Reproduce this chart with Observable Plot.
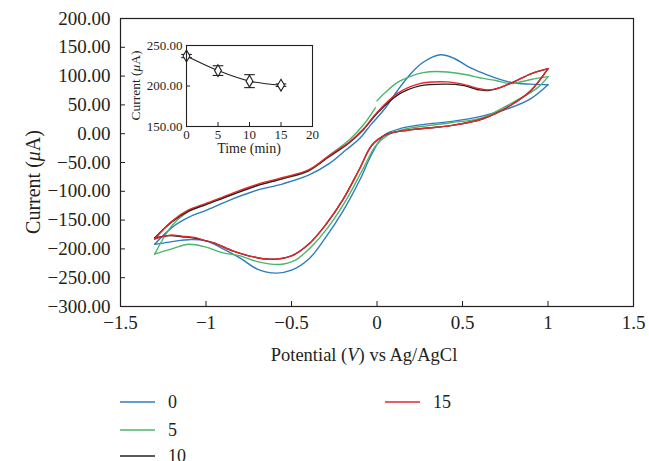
<!DOCTYPE html>
<html>
<head>
<meta charset="utf-8">
<script src="https://cdn.jsdelivr.net/npm/d3@7"></script>
<script src="https://cdn.jsdelivr.net/npm/@observablehq/plot@0.6"></script>
<style>
  body { margin: 0; background: #fff; }
  #wrap { position: relative; width: 649px; height: 461px; overflow: hidden; font-family: "Liberation Serif", "DejaVu Serif", serif; color: #231f20; }
  #inset { position: absolute; left: 90px; top: 30px; }
  .leg { position: absolute; display: flex; align-items: center; font-size: 18px; height: 22px; }
  .leg svg { margin-right: 13px; }
</style>
</head>
<body>
<div id="wrap">
  <div id="main"></div>
  <div id="inset"></div>
  <div id="legend"></div>
</div>
<script>
// ---- data (potential V, current µA) ----
const seriesNames = ["0", "5", "10", "15"];
const seriesColors = ["#2f7bbd", "#4cb46c", "#231f20", "#e2292d"];

const s0Forward = [[-1.3,-192],[-1.2,-163],[-1.1,-145],[-1.0,-133],[-0.85,-114],[-0.7,-98],[-0.55,-87],[-0.4,-72],[-0.28,-52],[-0.18,-28],[-0.1,-8],[-0.04,14],[0.05,45],[0.12,75],[0.2,105],[0.27,124],[0.37,137],[0.45,131],[0.53,117],[0.62,105],[0.7,96],[0.8,88],[0.9,86],[1.0,85]];
const s0Reverse = [[1.0,85],[0.9,61],[0.78,45],[0.62,31],[0.43,21],[0.3,17],[0.15,10],[0.04,-3],[-0.03,-35],[-0.1,-80],[-0.2,-135],[-0.3,-180],[-0.4,-218],[-0.5,-237],[-0.59,-242],[-0.7,-235],[-0.8,-216],[-0.9,-200],[-1.0,-186],[-1.1,-184],[-1.17,-186],[-1.25,-190],[-1.3,-192]];

const s5Forward = [[0.0,57],[0.05,72],[0.12,89],[0.2,100],[0.27,106],[0.35,108],[0.49,104],[0.62,96],[0.7,92],[0.78,87],[0.9,94],[1.0,99]];
const s5Reverse = [[1.0,99],[0.94,80],[0.78,52],[0.62,28],[0.43,19],[0.3,14],[0.15,7],[0.06,-3],[-0.01,-22],[-0.08,-60],[-0.18,-115],[-0.28,-160],[-0.38,-195],[-0.48,-220],[-0.57,-227],[-0.7,-222],[-0.8,-212],[-0.9,-207],[-1.0,-197],[-1.1,-192],[-1.2,-200],[-1.3,-209]];
const s5Return = [[-1.3,-209],[-1.2,-160],[-1.1,-135],[-1.0,-123],[-0.85,-106],[-0.7,-90],[-0.55,-78],[-0.4,-65],[-0.28,-38],[-0.16,-10],[-0.08,15],[-0.01,45]];

const s10Forward = [[-1.3,-181],[-1.2,-153],[-1.1,-134],[-1.0,-123],[-0.85,-106],[-0.7,-90],[-0.55,-78],[-0.4,-64],[-0.28,-40],[-0.16,-15],[-0.08,7],[0.0,35],[0.12,67],[0.25,83],[0.41,86],[0.5,84],[0.6,76],[0.65,75],[0.72,80],[0.8,90],[0.9,104],[1.0,113]];
const s10Reverse = [[1.0,113],[0.9,75],[0.78,49],[0.62,26],[0.43,14],[0.3,10],[0.15,5],[0.05,-2],[-0.03,-20],[-0.1,-60],[-0.2,-115],[-0.3,-158],[-0.4,-192],[-0.5,-212],[-0.63,-218],[-0.75,-212],[-0.84,-204],[-0.95,-190],[-1.0,-186],[-1.07,-181],[-1.14,-179],[-1.21,-177],[-1.3,-181]];

const s15Forward = [[-1.3,-183],[-1.2,-152],[-1.1,-132],[-1.0,-121],[-0.85,-104],[-0.7,-88],[-0.55,-76],[-0.4,-63],[-0.28,-38],[-0.16,-14],[-0.08,8],[0.0,37],[0.12,70],[0.25,87],[0.41,90],[0.5,86],[0.6,78],[0.65,76],[0.72,80],[0.8,90],[0.9,104],[1.0,113]];
const s15Reverse = [[1.0,113],[0.9,75],[0.78,49],[0.62,26],[0.43,14],[0.3,10],[0.15,5],[0.05,-2],[-0.03,-20],[-0.1,-60],[-0.2,-115],[-0.3,-158],[-0.4,-192],[-0.5,-212],[-0.63,-218],[-0.75,-212],[-0.84,-204],[-0.95,-190],[-1.0,-186],[-1.07,-180],[-1.14,-178],[-1.21,-176],[-1.3,-183]];

const xTicks = [-1.5, -1, -0.5, 0, 0.5, 1, 1.5];
const yTicks = [200, 150, 100, 50, 0, -50, -100, -150, -200, -250, -300];

// inset data
const insetTime = [0, 5, 10, 15];
const insetCurrent = [237, 219, 206, 201];
const insetError = [2, 6, 8, 1.5];
const insetXTicks = [0, 5, 10, 15, 20];
const insetYTicks = [150, 200, 250];

// ---- build tables ----
const branches = [
  ["0", "a", s0Forward], ["0", "b", s0Reverse],
  ["5", "a", s5Forward], ["5", "b", s5Reverse], ["5", "c", s5Return],
  ["10", "a", s10Forward], ["10", "b", s10Reverse],
  ["15", "a", s15Forward], ["15", "b", s15Reverse]
];
const cv = [];
for (const [name, part, pts] of branches) for (const [v, i] of pts) cv.push({series: name, key: name + part, v, i});

const minus = (s) => s.replace("-", "\u2212");
const fmtX = d => minus(String(d));
const fmtY = d => minus(d.toFixed(2));
const ink = "#231f20";
const serif = "'Liberation Serif', 'DejaVu Serif', serif";

const W = 649, H = 372, mt = 18, mb = 66, ml = 120, mr = 16;
const main = Plot.plot({
  width: W, height: H, marginTop: mt, marginBottom: mb, marginLeft: ml, marginRight: mr,
  x: {domain: [-1.5, 1.5]},
  y: {domain: [-300, 200]},
  color: {domain: seriesNames, range: seriesColors},
  style: {fontFamily: serif, fontSize: "19px", color: ink, background: "white"},
  marks: [
    Plot.axisX(xTicks, {tickSize: 0, tickPadding: 9, tickFormat: fmtX, label: null}),
    Plot.axisY(yTicks, {tickSize: 0, tickPadding: 10, tickFormat: fmtY, label: null}),
    Plot.tickX(xTicks, {x: d => d, insetTop: H - mt - mb - 5, stroke: ink}),
    Plot.tickY(yTicks, {y: d => d, insetRight: W - ml - mr - 5, stroke: ink}),
    Plot.line(cv, {x: "v", y: "i", z: "key", stroke: "series", strokeWidth: 1.4, curve: "catmull-rom"}),
    Plot.frame({stroke: ink, strokeWidth: 1.2})
  ]
});
document.getElementById("main").appendChild(main);

// axis titles with italic parts
const svg = d3.select(main);
const xl = svg.append("text").attr("x", 364).attr("y", 361)
  .attr("text-anchor", "middle").attr("fill", ink).attr("font-size", 18.5);
xl.append("tspan").text("Potential (");
xl.append("tspan").attr("font-style", "italic").text("V");
xl.append("tspan").text(") vs Ag/AgCl");
const yl = svg.append("text").attr("transform", `translate(40,182) rotate(-90)`)
  .attr("text-anchor", "middle").attr("fill", ink).attr("font-size", 20);
yl.append("tspan").text("Current (");
yl.append("tspan").attr("font-style", "italic").text("\u03bc");
yl.append("tspan").text("A)");

// ---- inset ----
const inset = insetTime.map((t, k) => ({t, c: insetCurrent[k], lo: insetCurrent[k] - insetError[k], hi: insetCurrent[k] + insetError[k]}));
const capSymbol = {draw(ctx, size) { const w = Math.sqrt(size); ctx.moveTo(-w, 0); ctx.lineTo(w, 0); }};
const IW = 240, IH = 132, iml = 96, imr = 18, imt = 15, imb = 36;
const ins = Plot.plot({
  width: IW, height: IH, marginLeft: iml, marginRight: imr, marginTop: imt, marginBottom: imb,
  x: {domain: [0, 20]},
  y: {domain: [150, 250]},
  style: {fontFamily: serif, fontSize: "13px", color: ink, background: "transparent"},
  marks: [
    Plot.axisX(insetXTicks, {tickSize: 0, tickPadding: 3, label: null}),
    Plot.axisY(insetYTicks, {tickSize: 0, tickPadding: 4, tickFormat: d => d.toFixed(2), label: null}),
    Plot.tickX(insetXTicks, {x: d => d, insetTop: IH - imt - imb - 4, stroke: ink}),
    Plot.tickY(insetYTicks, {y: d => d, insetRight: IW - iml - imr - 4, stroke: ink}),
    Plot.line(inset, {x: "t", y: "c", stroke: ink, strokeWidth: 1.1, curve: "catmull-rom"}),
    Plot.ruleX(inset, {x: "t", y1: "lo", y2: "hi", stroke: ink, strokeWidth: 1.1}),
    Plot.dot(inset, {x: "t", y: "lo", symbol: capSymbol, r: 3, stroke: ink, strokeWidth: 1.1}),
    Plot.dot(inset, {x: "t", y: "hi", symbol: capSymbol, r: 3, stroke: ink, strokeWidth: 1.1}),
    Plot.dot(inset, {x: "t", y: "c", symbol: "diamond", r: 3.6, fill: "white", stroke: ink, strokeWidth: 1.1}),
    Plot.frame({stroke: ink, strokeWidth: 1.1})
  ]
});
document.getElementById("inset").appendChild(ins);
const isvg = d3.select(ins);
isvg.append("text").attr("x", iml + (IW - iml - imr) / 2).attr("y", 123)
  .attr("text-anchor", "middle").attr("fill", ink).attr("font-size", 14).text("Time (min)");
const iyl = isvg.append("text").attr("transform", `translate(50,${imt + (IH - imt - imb) / 2}) rotate(-90)`)
  .attr("text-anchor", "middle").attr("fill", ink).attr("font-size", 13.5);
iyl.append("tspan").text("Current (");
iyl.append("tspan").attr("font-style", "italic").text("\u03bc");
iyl.append("tspan").text("A)");

// ---- legend ----
const legendPos = [[120, 402], [120, 430], [120, 456], [385, 402]];
const legend = document.getElementById("legend");
seriesNames.forEach((name, k) => {
  const d = document.createElement("div");
  d.className = "leg";
  d.style.left = legendPos[k][0] + "px";
  d.style.top = (legendPos[k][1] - 11) + "px";
  const ns = "http://www.w3.org/2000/svg";
  const s = document.createElementNS(ns, "svg");
  s.setAttribute("width", "35"); s.setAttribute("height", "4");
  const ln = document.createElementNS(ns, "line");
  ln.setAttribute("x1", "0"); ln.setAttribute("x2", "35");
  ln.setAttribute("y1", "2"); ln.setAttribute("y2", "2");
  ln.setAttribute("stroke", seriesColors[k]); ln.setAttribute("stroke-width", "1.6");
  s.appendChild(ln);
  d.appendChild(s);
  const t = document.createElement("span");
  t.textContent = name;
  d.appendChild(t);
  legend.appendChild(d);
});
</script>
</body>
</html>
